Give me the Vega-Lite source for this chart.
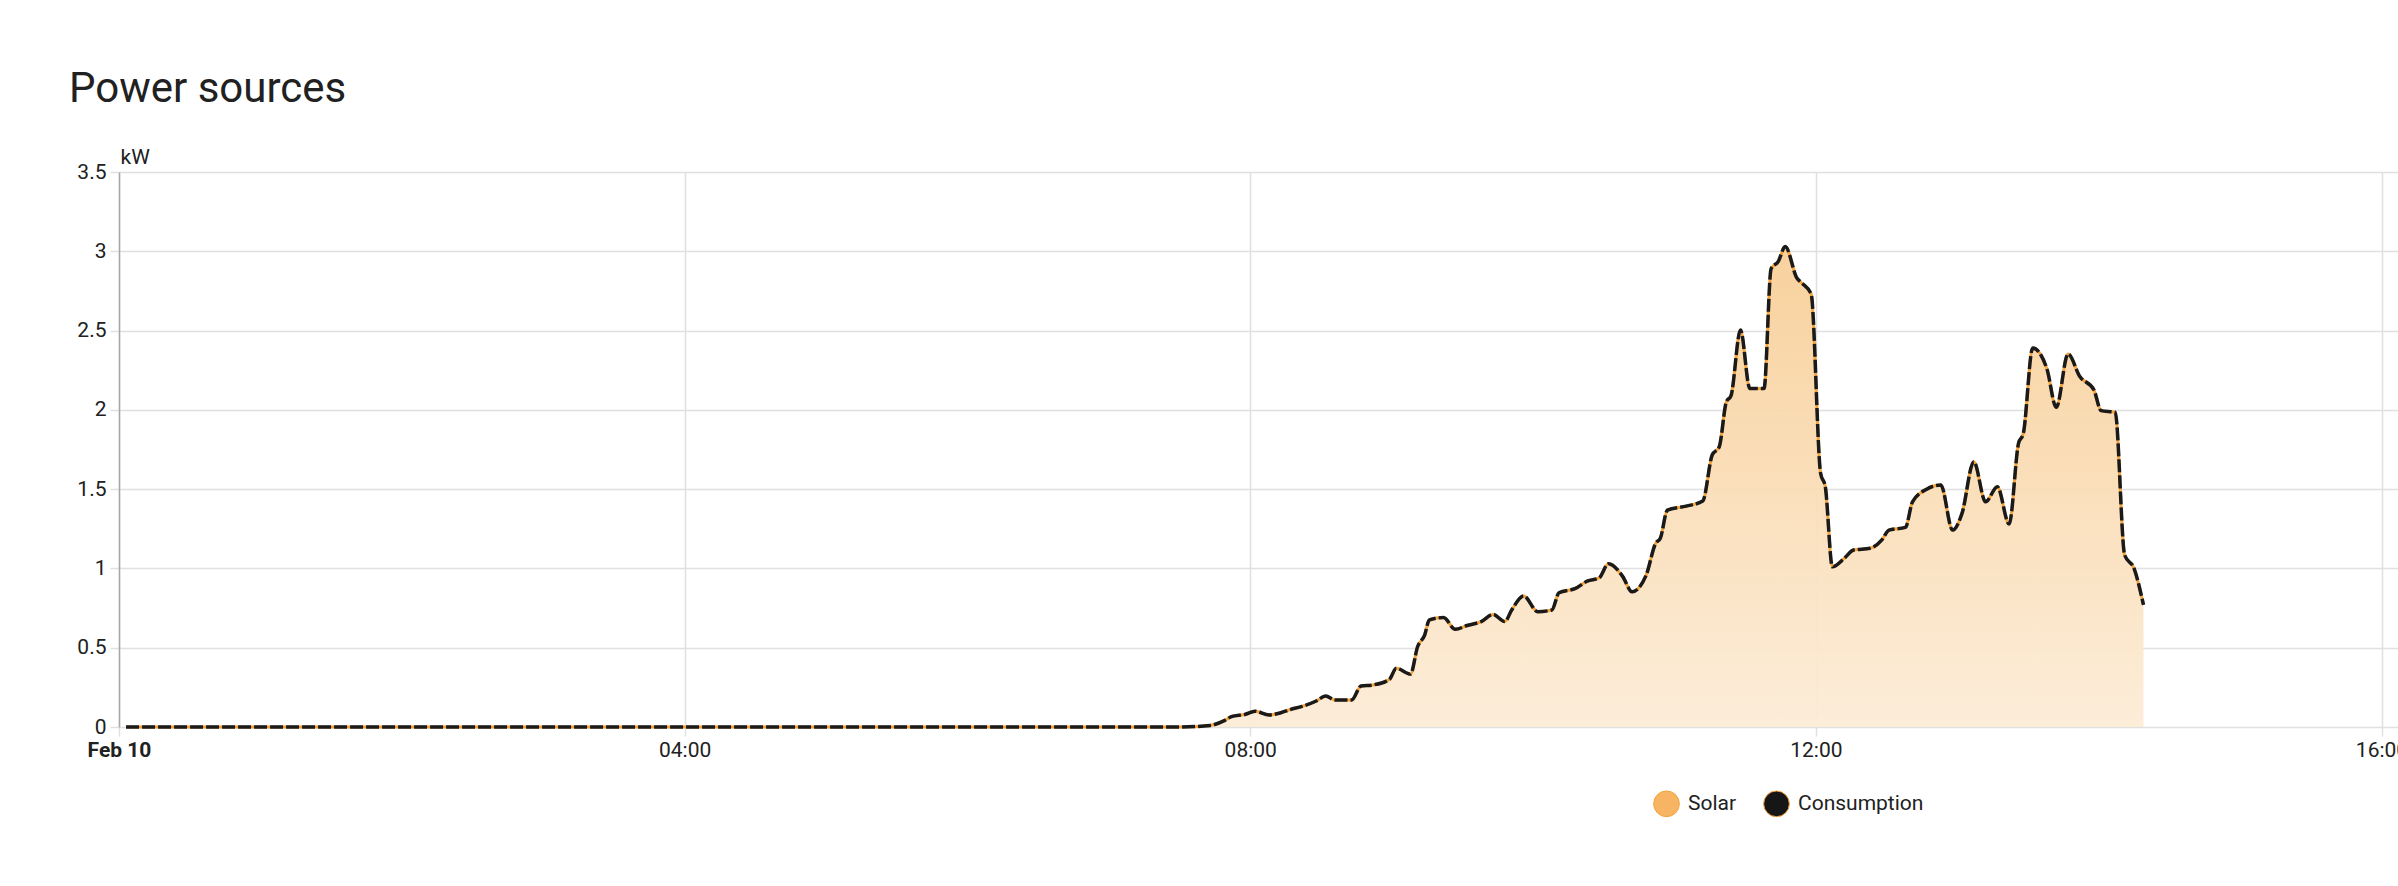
{
  "$schema": "https://vega.github.io/schema/vega-lite/v6.json",
  "width": 2279,
  "height": 555,
  "autosize": {"type": "none"},
  "padding": {"left": 119, "top": 172, "right": 0, "bottom": 159},
  "background": "white",
  "title": {
    "text": "Power sources",
    "anchor": "start",
    "frame": "group",
    "font": "Roboto",
    "fontSize": 42,
    "fontWeight": 400,
    "color": "#212121",
    "dx": -50,
    "baseline": "alphabetic",
    "offset": 2
  },
  "datasets": {
    "power": [
      {"time": "2025-02-10T00:03", "kw": 0},
      {"time": "2025-02-10T07:30", "kw": 0},
      {"time": "2025-02-10T07:43", "kw": 0.01},
      {"time": "2025-02-10T07:49", "kw": 0.04},
      {"time": "2025-02-10T07:52", "kw": 0.065},
      {"time": "2025-02-10T07:58", "kw": 0.08},
      {"time": "2025-02-10T08:02", "kw": 0.1},
      {"time": "2025-02-10T08:08", "kw": 0.076},
      {"time": "2025-02-10T08:13", "kw": 0.09},
      {"time": "2025-02-10T08:17", "kw": 0.11},
      {"time": "2025-02-10T08:22", "kw": 0.13},
      {"time": "2025-02-10T08:28", "kw": 0.164},
      {"time": "2025-02-10T08:32", "kw": 0.195},
      {"time": "2025-02-10T08:36", "kw": 0.17},
      {"time": "2025-02-10T08:43", "kw": 0.17},
      {"time": "2025-02-10T08:47", "kw": 0.258},
      {"time": "2025-02-10T08:52", "kw": 0.265},
      {"time": "2025-02-10T08:59", "kw": 0.3},
      {"time": "2025-02-10T09:02", "kw": 0.37},
      {"time": "2025-02-10T09:08", "kw": 0.334},
      {"time": "2025-02-10T09:11", "kw": 0.506},
      {"time": "2025-02-10T09:14", "kw": 0.58},
      {"time": "2025-02-10T09:16", "kw": 0.675},
      {"time": "2025-02-10T09:22", "kw": 0.69},
      {"time": "2025-02-10T09:27", "kw": 0.616},
      {"time": "2025-02-10T09:32", "kw": 0.64},
      {"time": "2025-02-10T09:38", "kw": 0.665},
      {"time": "2025-02-10T09:43", "kw": 0.71},
      {"time": "2025-02-10T09:48", "kw": 0.665},
      {"time": "2025-02-10T09:51", "kw": 0.74},
      {"time": "2025-02-10T09:56", "kw": 0.826},
      {"time": "2025-02-10T10:02", "kw": 0.727},
      {"time": "2025-02-10T10:08", "kw": 0.738},
      {"time": "2025-02-10T10:11", "kw": 0.847},
      {"time": "2025-02-10T10:18", "kw": 0.874},
      {"time": "2025-02-10T10:23", "kw": 0.92},
      {"time": "2025-02-10T10:28", "kw": 0.94},
      {"time": "2025-02-10T10:32", "kw": 1.03},
      {"time": "2025-02-10T10:38", "kw": 0.95},
      {"time": "2025-02-10T10:42", "kw": 0.853},
      {"time": "2025-02-10T10:48", "kw": 0.958},
      {"time": "2025-02-10T10:52", "kw": 1.158},
      {"time": "2025-02-10T10:54", "kw": 1.19},
      {"time": "2025-02-10T10:57", "kw": 1.368},
      {"time": "2025-02-10T11:05", "kw": 1.393},
      {"time": "2025-02-10T11:12", "kw": 1.425},
      {"time": "2025-02-10T11:16", "kw": 1.715},
      {"time": "2025-02-10T11:19", "kw": 1.767},
      {"time": "2025-02-10T11:22", "kw": 2.05},
      {"time": "2025-02-10T11:24", "kw": 2.09},
      {"time": "2025-02-10T11:28", "kw": 2.503},
      {"time": "2025-02-10T11:32", "kw": 2.135},
      {"time": "2025-02-10T11:38", "kw": 2.135},
      {"time": "2025-02-10T11:41", "kw": 2.89},
      {"time": "2025-02-10T11:44", "kw": 2.935},
      {"time": "2025-02-10T11:47", "kw": 3.03},
      {"time": "2025-02-10T11:52", "kw": 2.83},
      {"time": "2025-02-10T11:54", "kw": 2.8},
      {"time": "2025-02-10T11:58", "kw": 2.73},
      {"time": "2025-02-10T12:02", "kw": 1.6},
      {"time": "2025-02-10T12:04", "kw": 1.515},
      {"time": "2025-02-10T12:07", "kw": 1.01},
      {"time": "2025-02-10T12:12", "kw": 1.063},
      {"time": "2025-02-10T12:16", "kw": 1.116},
      {"time": "2025-02-10T12:23", "kw": 1.127},
      {"time": "2025-02-10T12:28", "kw": 1.18},
      {"time": "2025-02-10T12:31", "kw": 1.242},
      {"time": "2025-02-10T12:38", "kw": 1.259},
      {"time": "2025-02-10T12:41", "kw": 1.42},
      {"time": "2025-02-10T12:47", "kw": 1.5},
      {"time": "2025-02-10T12:53", "kw": 1.526},
      {"time": "2025-02-10T12:58", "kw": 1.242},
      {"time": "2025-02-10T13:02", "kw": 1.347},
      {"time": "2025-02-10T13:07", "kw": 1.673},
      {"time": "2025-02-10T13:12", "kw": 1.42},
      {"time": "2025-02-10T13:17", "kw": 1.515},
      {"time": "2025-02-10T13:22", "kw": 1.28},
      {"time": "2025-02-10T13:26", "kw": 1.79},
      {"time": "2025-02-10T13:28", "kw": 1.85},
      {"time": "2025-02-10T13:32", "kw": 2.39},
      {"time": "2025-02-10T13:38", "kw": 2.26},
      {"time": "2025-02-10T13:42", "kw": 2.016},
      {"time": "2025-02-10T13:47", "kw": 2.352},
      {"time": "2025-02-10T13:52", "kw": 2.21},
      {"time": "2025-02-10T13:58", "kw": 2.125},
      {"time": "2025-02-10T14:01", "kw": 1.995},
      {"time": "2025-02-10T14:07", "kw": 1.985},
      {"time": "2025-02-10T14:11", "kw": 1.085},
      {"time": "2025-02-10T14:15", "kw": 1.0},
      {"time": "2025-02-10T14:19", "kw": 0.77}
    ],
    "series": [{"series": "Solar"}, {"series": "Consumption"}]
  },
  "layer": [
    {
      "data": {"name": "power"},
      "mark": {
        "type": "area",
        "interpolate": "monotone",
        "color": {
          "gradient": "linear",
          "x1": 1, "y1": 1, "x2": 1, "y2": 0,
          "stops": [
            {"offset": 0, "color": "#fcecd7"},
            {"offset": 1, "color": "#f8cf98"}
          ]
        },
        "opacity": 0.95
      },
      "encoding": {
        "x": {
          "field": "time",
          "type": "temporal",
          "scale": {
            "domain": [
              {"year": 2025, "month": 2, "date": 10, "hours": 0},
              {"year": 2025, "month": 2, "date": 10, "hours": 16, "minutes": 7}
            ]
          },
          "axis": {
            "title": null,
            "domain": false,
            "grid": true,
            "values": [
              {"year": 2025, "month": 2, "date": 10, "hours": 0},
              {"year": 2025, "month": 2, "date": 10, "hours": 4},
              {"year": 2025, "month": 2, "date": 10, "hours": 8},
              {"year": 2025, "month": 2, "date": 10, "hours": 12},
              {"year": 2025, "month": 2, "date": 10, "hours": 16}
            ],
            "labelFlush": false,
            "labelOverlap": false,
            "labelPadding": 3,
            "labelExpr": "hours(datum.value) == 0 ? timeFormat(datum.value, '%b %d') : timeFormat(datum.value, '%H:%M')",
            "labelFontWeight": {"condition": {"test": "hours(datum.value) == 0", "value": "bold"}, "value": "normal"}
          }
        },
        "y": {
          "field": "kw",
          "type": "quantitative",
          "scale": {"domain": [0, 3.5], "nice": false},
          "axis": {
            "values": [0, 0.5, 1, 1.5, 2, 2.5, 3, 3.5],
            "format": "~g",
            "title": "kW",
            "titleAngle": 0,
            "titleAlign": "left",
            "titleBaseline": "alphabetic",
            "titleX": 1,
            "titleY": -9,
            "domain": true,
            "domainColor": "#a8a8a8",
            "domainWidth": 1.5,
            "labelPadding": 4
          }
        }
      }
    },
    {
      "data": {"name": "power"},
      "mark": {"type": "line", "interpolate": "monotone", "color": "#f5a23a", "strokeWidth": 3},
      "encoding": {
        "x": {"field": "time", "type": "temporal"},
        "y": {"field": "kw", "type": "quantitative"}
      }
    },
    {
      "data": {"name": "power"},
      "mark": {"type": "line", "interpolate": "monotone", "color": "#1a1a1a", "strokeWidth": 3.5, "strokeDash": [13, 3]},
      "encoding": {
        "x": {"field": "time", "type": "temporal"},
        "y": {"field": "kw", "type": "quantitative"}
      }
    },
    {
      "data": {"name": "series"},
      "mark": {"type": "point", "shape": "circle", "filled": true, "opacity": 0},
      "encoding": {
        "fill": {
          "field": "series",
          "type": "nominal",
          "scale": {"domain": ["Solar", "Consumption"], "range": ["#f7b563", "#161616"]},
          "legend": {
            "title": null,
            "orient": "none",
            "legendX": 1534,
            "legendY": 618,
            "direction": "horizontal",
            "symbolType": "circle",
            "symbolSize": 660,
            "symbolOpacity": 1,
            "symbolStrokeColor": "#f4a13a",
            "symbolStrokeWidth": 1,
            "labelFontSize": 21,
            "labelFont": "Roboto",
            "labelColor": "#212121",
            "labelOffset": 8,
            "columnPadding": 24,
            "padding": 0
          }
        }
      }
    }
  ],
  "config": {
    "font": "Roboto",
    "view": {"stroke": null},
    "axis": {
      "gridColor": "#e0e0e0",
      "gridWidth": 1.5,
      "tickColor": "#e0e0e0",
      "tickWidth": 1.5,
      "tickSize": 9,
      "labelFont": "Roboto",
      "labelFontSize": 21,
      "labelColor": "#212121",
      "titleFont": "Roboto",
      "titleFontSize": 21,
      "titleFontWeight": "normal",
      "titleColor": "#212121"
    }
  }
}
